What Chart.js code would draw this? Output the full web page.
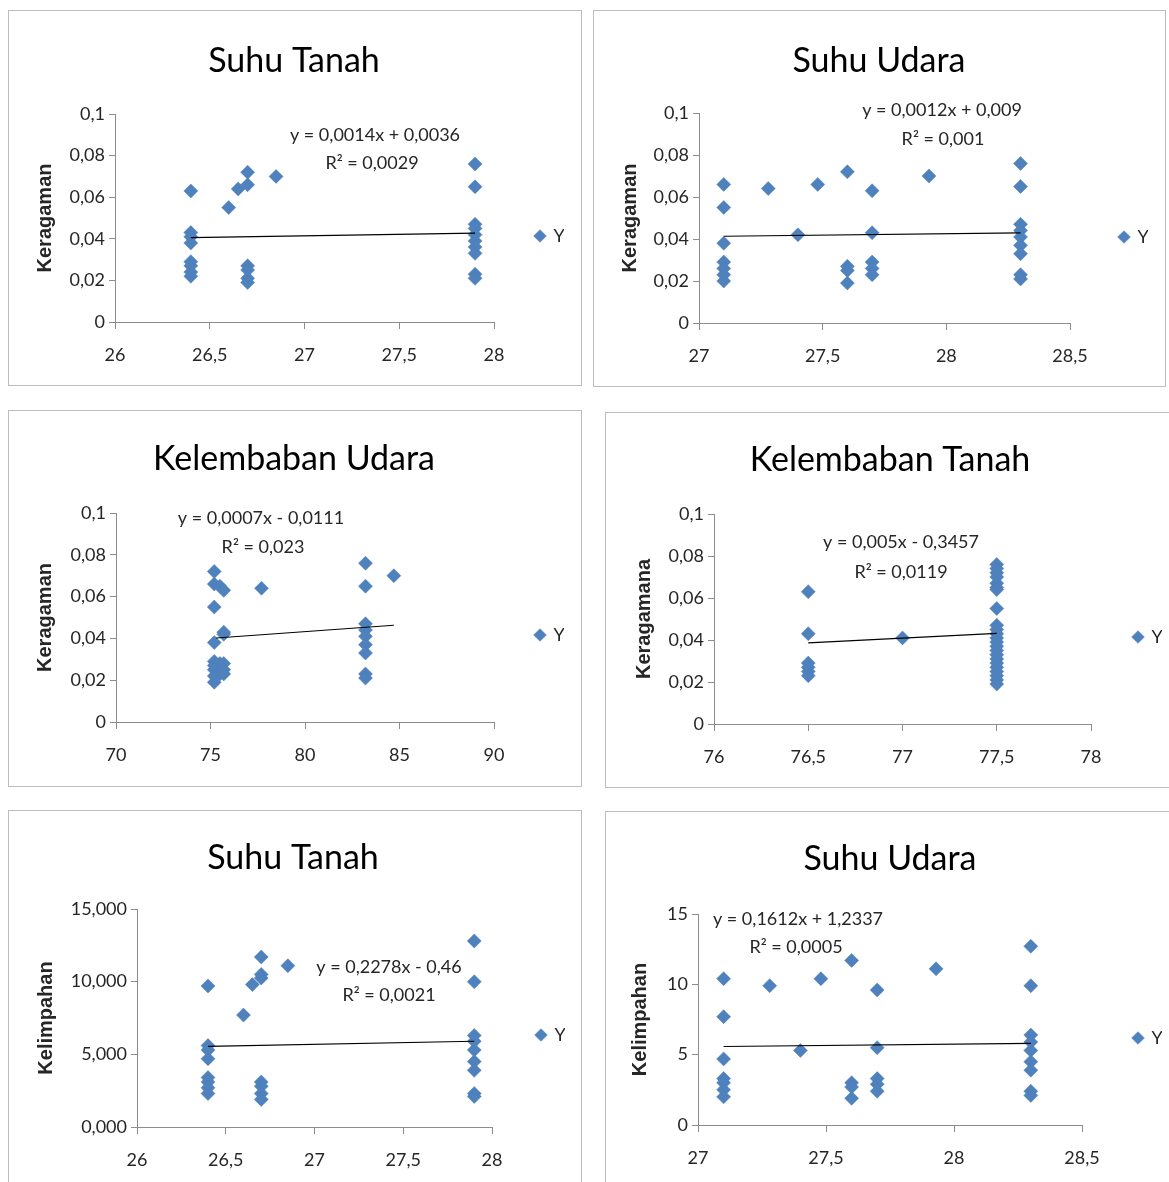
<!DOCTYPE html>
<html>
<head>
<meta charset="utf-8">
<title>Keragaman dan Kelimpahan</title>
<script src="https://cdn.jsdelivr.net/npm/chart.js@4.4.1/dist/chart.umd.min.js"></script>
<style>
  html, body { margin: 0; padding: 0; overflow: hidden; }
  body { position: relative; width: 1169px; height: 1182px; background: #fff; }
  .panel { position: absolute; box-sizing: border-box; border: 1px solid #bdbdbd; background: #fff; }
  .panel canvas { position: absolute; left: 0; top: 0; }
</style>
</head>
<body>
<div class="panel" id="p1"><canvas id="c1"></canvas></div>
<div class="panel" id="p2"><canvas id="c2"></canvas></div>
<div class="panel" id="p3"><canvas id="c3"></canvas></div>
<div class="panel" id="p4"><canvas id="c4"></canvas></div>
<div class="panel" id="p5"><canvas id="c5"></canvas></div>
<div class="panel" id="p6"><canvas id="c6"></canvas></div>

<script>
// Suhu tanah vs keragaman
const stKerX = [26.4, 26.4, 26.4, 26.4, 26.4, 26.4, 26.4, 26.4, 26.6, 26.65, 26.7, 26.7, 26.7, 26.7, 26.7, 26.7, 26.85,
                27.9, 27.9, 27.9, 27.9, 27.9, 27.9, 27.9, 27.9, 27.9, 27.9];
const stKerY = [0.063, 0.043, 0.041, 0.038, 0.029, 0.027, 0.024, 0.022, 0.055, 0.064, 0.072, 0.066, 0.027, 0.025, 0.021, 0.019, 0.070,
                0.076, 0.065, 0.047, 0.045, 0.042, 0.039, 0.036, 0.033, 0.023, 0.021];
const stKerTrendX = [26.4, 27.9];
const stKerTrendY = [0.0406, 0.0427];

// Suhu udara vs keragaman
const suKerX = [27.1, 27.1, 27.1, 27.1, 27.1, 27.1, 27.1, 27.28, 27.4, 27.48, 27.6, 27.6, 27.6, 27.6,
                27.7, 27.7, 27.7, 27.7, 27.7, 27.93, 28.3, 28.3, 28.3, 28.3, 28.3, 28.3, 28.3, 28.3, 28.3];
const suKerY = [0.066, 0.055, 0.038, 0.029, 0.026, 0.023, 0.020, 0.064, 0.042, 0.066, 0.072, 0.027, 0.025, 0.019,
                0.063, 0.043, 0.029, 0.026, 0.023, 0.070, 0.076, 0.065, 0.047, 0.044, 0.041, 0.037, 0.033, 0.023, 0.021];
const suKerTrendX = [27.1, 28.3];
const suKerTrendY = [0.0413, 0.0429];

// Kelembaban udara vs keragaman
const kuKerX = [75.2, 75.2, 75.2, 75.2, 75.2, 75.2, 75.2, 75.2, 75.2, 75.5, 75.5, 75.5, 75.7, 75.7, 75.7, 75.7, 75.7, 75.7,
                77.7, 83.2, 83.2, 83.2, 83.2, 83.2, 83.2, 83.2, 83.2, 83.2, 84.7];
const kuKerY = [0.072, 0.066, 0.055, 0.038, 0.029, 0.027, 0.025, 0.022, 0.019, 0.065, 0.028, 0.023, 0.063, 0.043, 0.042, 0.028, 0.025, 0.023,
                0.064, 0.076, 0.065, 0.047, 0.044, 0.041, 0.037, 0.033, 0.023, 0.021, 0.070];
const kuKerTrendX = [75.3, 84.7];
const kuKerTrendY = [0.0402, 0.0463];

// Kelembaban tanah vs keragaman
const ktKerX = [76.5, 76.5, 76.5, 76.5, 76.5, 76.5, 77,
                77.5, 77.5, 77.5, 77.5, 77.5, 77.5, 77.5, 77.5, 77.5, 77.5, 77.5, 77.5,
                77.5, 77.5, 77.5, 77.5, 77.5, 77.5, 77.5, 77.5, 77.5, 77.5, 77.5];
const ktKerY = [0.063, 0.043, 0.029, 0.027, 0.025, 0.023, 0.041,
                0.076, 0.074, 0.072, 0.070, 0.067, 0.065, 0.064, 0.055, 0.047, 0.045, 0.043, 0.041,
                0.039, 0.037, 0.035, 0.033, 0.031, 0.029, 0.027, 0.025, 0.023, 0.021, 0.019];
const ktKerTrendX = [76.5, 77.5];
const ktKerTrendY = [0.0386, 0.0432];

// Suhu tanah vs kelimpahan
const stKelX = [26.4, 26.4, 26.4, 26.4, 26.4, 26.4, 26.4, 26.4, 26.6, 26.65, 26.7, 26.7, 26.7, 26.7, 26.7, 26.7, 26.7, 26.85,
                27.9, 27.9, 27.9, 27.9, 27.9, 27.9, 27.9, 27.9, 27.9];
const stKelY = [9.7, 5.6, 5.3, 4.7, 3.4, 3.1, 2.7, 2.3, 7.7, 9.8, 11.7, 10.5, 10.25, 3.1, 2.8, 2.3, 1.9, 11.1,
                12.8, 10.0, 6.3, 5.9, 5.3, 4.5, 3.9, 2.3, 2.1];
const stKelTrendX = [26.4, 27.9];
const stKelTrendY = [5.55, 5.9];

// Suhu udara vs kelimpahan
const suKelX = [27.1, 27.1, 27.1, 27.1, 27.1, 27.1, 27.1, 27.28, 27.4, 27.48, 27.6, 27.6, 27.6, 27.6,
                27.7, 27.7, 27.7, 27.7, 27.7, 27.93, 28.3, 28.3, 28.3, 28.3, 28.3, 28.3, 28.3, 28.3, 28.3];
const suKelY = [10.4, 7.7, 4.7, 3.3, 3.0, 2.5, 2.0, 9.9, 5.3, 10.4, 11.7, 3.0, 2.7, 1.9,
                9.6, 5.5, 3.3, 2.9, 2.4, 11.1, 12.7, 9.9, 6.4, 5.9, 5.3, 4.5, 3.9, 2.4, 2.1];
const suKelTrendX = [27.1, 28.3];
const suKelTrendY = [5.58, 5.8];

const titles = ['Suhu Tanah', 'Suhu Udara', 'Kelembaban Udara', 'Kelembaban Tanah', 'Suhu Tanah', 'Suhu Udara'];
const yTitles = ['Keragaman', 'Keragaman', 'Keragaman', 'Keragamana', 'Kelimpahan', 'Kelimpahan'];
const equations = [
  ['y = 0,0014x + 0,0036', 'R² = 0,0029'],
  ['y = 0,0012x + 0,009', 'R² = 0,001'],
  ['y = 0,0007x - 0,0111', 'R² = 0,023'],
  ['y = 0,005x - 0,3457', 'R² = 0,0119'],
  ['y = 0,2278x - 0,46', 'R² = 0,0021'],
  ['y = 0,1612x + 1,2337', 'R² = 0,0005']
];
// [min, max, step]
const xRanges = [[26, 28, 0.5], [27, 28.5, 0.5], [70, 90, 5], [76, 78, 0.5], [26, 28, 0.5], [27, 28.5, 0.5]];
const yRanges = [[0, 0.1, 0.02], [0, 0.1, 0.02], [0, 0.1, 0.02], [0, 0.1, 0.02], [0, 15, 5], [0, 15, 5]];
const yDecimals = [null, null, null, null, 3, null];

// page positions of each panel (box, plot area, title, axis title, legend, equation text)
const layouts = [
  { box: [8, 10, 574, 376], area: [115, 114, 494, 322], title: [294, 61], axisTitleX: 45, legend: [540, 236], eq: [[375, 135], [372, 163]] },
  { box: [593, 10, 573, 377], area: [699, 113, 1070, 323], title: [879, 61], axisTitleX: 630, legend: [1124, 237], eq: [[942, 110], [943, 139]] },
  { box: [8, 410, 574, 377], area: [116, 513, 494, 722], title: [294, 459], axisTitleX: 45, legend: [540, 635], eq: [[261, 518], [263, 547]] },
  { box: [605, 412, 572, 376], area: [714, 514, 1091, 724], title: [890, 460], axisTitleX: 644, legend: [1138, 637], eq: [[901, 542], [901, 572]] },
  { box: [8, 810, 574, 380], area: [137, 909, 492, 1127], title: [293, 858], axisTitleX: 46, legend: [541, 1035], eq: [[389, 967], [389, 995]] },
  { box: [605, 811, 572, 380], area: [698, 914, 1082, 1125], title: [890, 859], axisTitleX: 640, legend: [1138, 1038], eq: [[798, 919], [796, 947]] }
];

const series = [
  [stKerX, stKerY, stKerTrendX, stKerTrendY],
  [suKerX, suKerY, suKerTrendX, suKerTrendY],
  [kuKerX, kuKerY, kuKerTrendX, kuKerTrendY],
  [ktKerX, ktKerY, ktKerTrendX, ktKerTrendY],
  [stKelX, stKelY, stKelTrendX, stKelTrendY],
  [suKelX, suKelY, suKelTrendX, suKelTrendY]
];

Chart.defaults.font.family = 'Lato';
Chart.defaults.color = '#262626';

const toPoints = (xs, ys) => xs.map((x, i) => ({ x: x, y: ys[i] }));
const comma = v => String(+v.toFixed(2)).replace('.', ',');

// draws the trendline equation and R² text
const trendLabel = {
  id: 'trendLabel',
  afterDatasetsDraw(chart, args, opts) {
    const ctx = chart.ctx;
    ctx.save();
    ctx.font = '18px Lato';
    ctx.fillStyle = '#262626';
    ctx.textAlign = 'center';
    ctx.textBaseline = 'middle';
    opts.lines.forEach((t, i) => ctx.fillText(t, opts.pos[i][0], opts.pos[i][1]));
    ctx.restore();
  }
};

const axisGray = '#8c8c8c';
const legendBox = 9;

function buildChart(i) {
  const lay = layouts[i];
  const [xs, ys, tx, ty] = series[i];
  const panel = document.getElementById('p' + (i + 1));
  panel.style.left = lay.box[0] + 'px';
  panel.style.top = lay.box[1] + 'px';
  panel.style.width = lay.box[2] + 'px';
  panel.style.height = lay.box[3] + 'px';

  const cx = lay.box[0] + 1, cy = lay.box[1] + 1;
  const cw = lay.box[2] - 2, ch = lay.box[3] - 2;
  const [aL, aT, aR, aB] = lay.area;

  const canvas = document.getElementById('c' + (i + 1));
  canvas.width = cw;
  canvas.height = ch;

  const titleLH = 34 * 1.2;
  const padTop = lay.title[1] - cy - titleLH / 2;
  const titlePadBottom = aT - cy - padTop - titleLH;

  // legend: marker left edge sits labels.padding right of the plot, width capped
  const legendPad = lay.legend[0] - aR - legendBox / 2;
  const legendW = legendPad + 28.5;
  const padRight = cx + cw - aR - legendW;

  // the chart title centres between the paddings, so shift with the axis title gap
  const axisGap = lay.axisTitleX - 12 + aR + legendW - 2 * lay.title[0];
  const padLeft = lay.axisTitleX - 12 - axisGap - cx;
  const yW = aL - cx - padLeft;
  const xH = cy + ch - aB;
  const legendTitleH = 2 * lay.legend[1] - aT - aB;

  const dec = yDecimals[i];

  new Chart(canvas, {
    type: 'scatter',
    data: {
      datasets: [{
        type: 'line',
        label: 'Linear (Y)',
        data: toPoints(tx, ty),
        borderColor: '#000',
        borderWidth: 1.2,
        pointRadius: 0,
        fill: false,
        order: 0
      }, {
        label: 'Y',
        data: toPoints(xs, ys),
        pointStyle: 'rectRot',
        pointRadius: 7,
        backgroundColor: '#4F81BD',
        borderColor: '#4A7EBB',
        borderWidth: 0.5,
        order: 1
      }]
    },
    options: {
      responsive: false,
      animation: false,
      devicePixelRatio: 1,
      layout: { padding: { top: padTop, left: padLeft, right: padRight, bottom: 0 } },
      scales: {
        x: {
          type: 'linear',
          min: xRanges[i][0],
          max: xRanges[i][1],
          afterFit: s => { s.height = xH; },
          ticks: { stepSize: xRanges[i][2], padding: 15, color: '#262626', font: { size: 18 }, callback: v => comma(v) },
          grid: { drawOnChartArea: false, drawTicks: true, tickLength: 7, color: axisGray },
          border: { color: axisGray, width: 1 }
        },
        y: {
          min: yRanges[i][0],
          max: yRanges[i][1],
          afterFit: s => { s.width = yW; },
          title: {
            display: true, text: yTitles[i], color: '#262626',
            padding: { top: axisGap, bottom: 0 },
            font: { family: 'Liberation Sans', size: 20, weight: 'bold' }
          },
          ticks: {
            stepSize: yRanges[i][2], padding: 4, color: '#262626', font: { size: 18 },
            callback: v => dec ? v.toFixed(dec).replace('.', ',') : comma(v)
          },
          grid: { drawOnChartArea: false, drawTicks: true, tickLength: 6, color: axisGray },
          border: { color: axisGray, width: 1 }
        }
      },
      plugins: {
        title: {
          display: true,
          text: titles[i],
          color: '#000',
          font: { size: 34, weight: 'normal' },
          padding: { top: 0, bottom: titlePadBottom }
        },
        legend: {
          position: 'right',
          fullSize: false,
          maxWidth: legendW,
          title: { display: true, text: '', font: { size: 12 }, padding: { top: legendTitleH - 14.4, bottom: 0 } },
          labels: {
            usePointStyle: true,
            boxWidth: legendBox,
            boxHeight: legendBox,
            padding: legendPad,
            color: '#262626',
            font: { size: 18 },
            filter: item => item.text === 'Y'
          }
        },
        tooltip: { enabled: false },
        trendLabel: {
          lines: equations[i],
          pos: lay.eq.map(p => [p[0] - cx, p[1] - cy])
        }
      }
    },
    plugins: [trendLabel]
  });
}

for (let i = 0; i < 6; i++) buildChart(i);
</script>
</body>
</html>
